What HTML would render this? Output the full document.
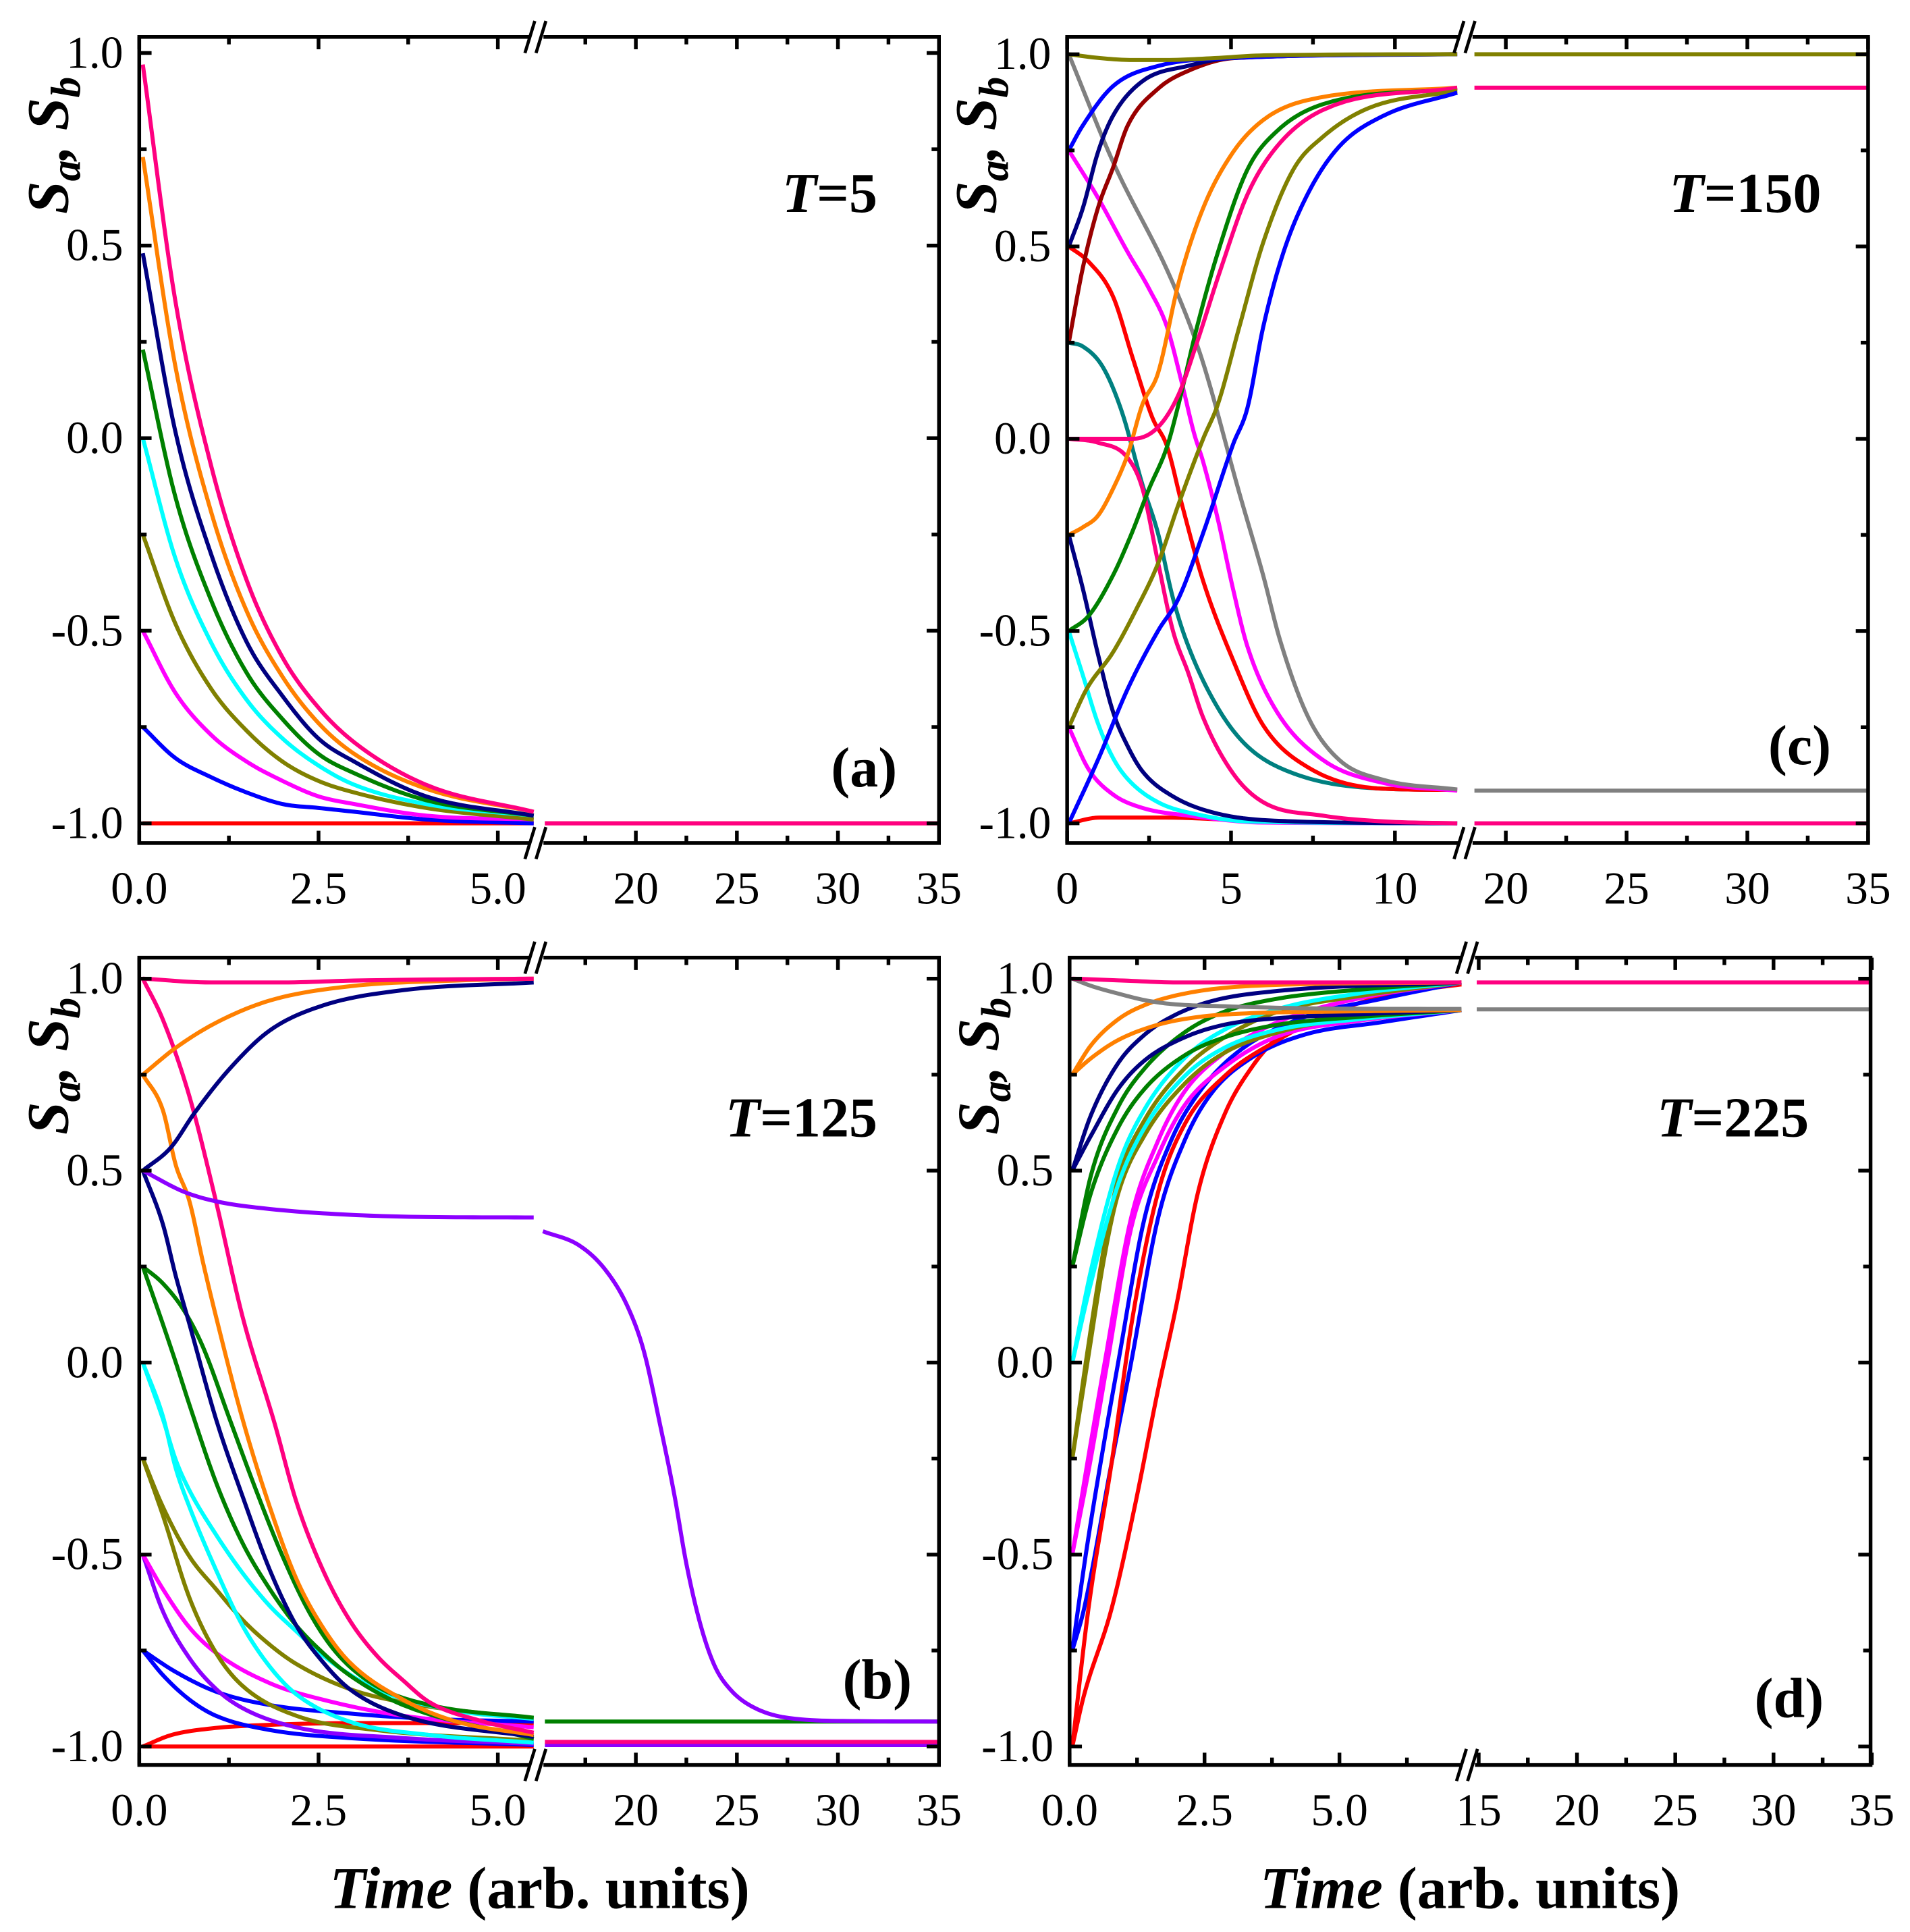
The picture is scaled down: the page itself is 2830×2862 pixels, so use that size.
<!DOCTYPE html>
<html><head><meta charset="utf-8"><title>Sa Sb relaxation</title>
<style>html,body{margin:0;padding:0;background:#fff;}svg{display:block;}</style></head>
<body>
<svg id="fig" xmlns="http://www.w3.org/2000/svg" width="2830" height="2862" viewBox="0 0 1550 1567.5" preserveAspectRatio="none" font-family="'Liberation Serif', serif">
<rect x="0" y="0" width="1550" height="1567.5" fill="#fff"/>
</svg>
<script>
// ---------- colours ----------
const C = {pink:'#ff0080',orange:'#ff8000',navy:'#000080',green:'#008000',cyan:'#00ffff',olive:'#808000',magenta:'#ff00ff',blue:'#0000ff',red:'#ff0000',gray:'#808080',teal:'#008080',maroon:'#990000',purple:'#8c00ff'};

// ---------- panel (a) T=5 ----------
const aTimes = [0.05,0.5,1,1.5,2,2.5,3,4,5.5];
const aRed     = [-1,-1,-1,-1,-1,-1,-1,-1,-1];
const aBlue    = [-0.75,-0.83,-0.88,-0.92,-0.95,-0.96,-0.97,-0.99,-1.0];
const aMagenta = [-0.5,-0.66,-0.77,-0.84,-0.89,-0.93,-0.95,-0.98,-0.99];
const aOlive   = [-0.25,-0.48,-0.65,-0.76,-0.84,-0.89,-0.92,-0.96,-0.99];
const aCyan    = [0,-0.31,-0.53,-0.68,-0.78,-0.85,-0.90,-0.95,-0.98];
const aGreen   = [0.23,-0.15,-0.42,-0.61,-0.73,-0.82,-0.87,-0.94,-0.98];
const aNavy    = [0.48,0.02,-0.30,-0.53,-0.67,-0.78,-0.84,-0.93,-0.98];
const aOrange  = [0.73,0.19,-0.19,-0.45,-0.62,-0.74,-0.82,-0.91,-0.97];
const aPink    = [0.97,0.36,-0.07,-0.37,-0.57,-0.70,-0.79,-0.90,-0.97];
const aRightTimes = [15.5,35];
const aRightRed  = [-1,-1];
const aRightPink = [-1,-1];

// ---------- panel (b) T=125 ----------
const bPinkTopT = [0.05,1,2,3,5.5];             const bPinkTopV = [1,0.99,0.99,0.995,1.0];
const bOrangeUpT = [0.05,0.51,1.07,1.82,2.93,4.4,5.5]; const bOrangeUpV = [0.75,0.82,0.885,0.943,0.98,0.995,1.0];
const bNavyUpT = [0.05,0.44,0.77,1.26,1.82,2.56,3.68,5.5]; const bNavyUpV = [0.5,0.56,0.65,0.765,0.865,0.93,0.97,0.99];
const bPurpleT = [0.05,0.62,1.07,1.82,2.93,4.05,5.5]; const bPurpleV = [0.5,0.445,0.42,0.40,0.385,0.379,0.378];
const bPinkT = [0.05,0.33,0.70,1.07,1.44,1.89,2.19,2.56,2.93,3.31,3.68,4.05,4.8,5.5];
const bPinkV = [1,0.893,0.693,0.42,0.12,-0.16,-0.362,-0.54,-0.67,-0.763,-0.828,-0.885,-0.935,-0.964];
const bOrangeT = [0.05,0.33,0.51,0.70,0.89,1.07,1.44,1.82,2.19,2.56,2.93,3.68,4.42,5.5];
const bOrangeV = [0.75,0.657,0.514,0.42,0.26,0.12,-0.147,-0.376,-0.563,-0.69,-0.78,-0.878,-0.935,-0.97];
const bNavyT = [0.05,0.33,0.51,0.70,1.07,1.44,1.82,2.19,2.56,2.93,3.68,5.5];
const bNavyV = [0.5,0.36,0.225,0.10,-0.147,-0.348,-0.54,-0.685,-0.78,-0.85,-0.92,-0.975];
const bGreen1T = [0.05,0.33,0.63,0.89,1.26,1.63,2.0,2.37,2.75,3.3,4.05,5.5];
const bGreen1V = [0.25,0.206,0.134,0.04,-0.147,-0.333,-0.505,-0.65,-0.756,-0.842,-0.892,-0.925];
const bGreen2T = [0.05,0.33,0.51,0.7,1.07,1.44,1.82,2.19,2.56,2.93,3.68,5.5];
const bGreen2V = [0.25,0.1,0.0,-0.11,-0.312,-0.47,-0.59,-0.685,-0.756,-0.814,-0.892,-0.98];
const bCyan1T = [0.05,0.33,0.51,0.70,1.07,1.44,1.82,2.19,2.56,3.3,4.42,5.5];
const bCyan1V = [0,-0.147,-0.254,-0.333,-0.448,-0.548,-0.634,-0.70,-0.763,-0.85,-0.907,-0.928];
const bCyan2T = [0.05,0.33,0.51,0.70,1.07,1.44,1.82,2.19,2.93,4.05,5.5];
const bCyan2V = [0,-0.14,-0.276,-0.376,-0.54,-0.685,-0.792,-0.864,-0.935,-0.97,-0.99];
const bOlive1T = [0.05,0.33,0.70,1.07,1.44,1.82,2.19,2.93,3.68,5.5];
const bOlive1V = [-0.25,-0.376,-0.505,-0.59,-0.67,-0.735,-0.785,-0.85,-0.885,-0.928];
const bOlive2T = [0.05,0.33,0.70,1.07,1.44,2.19,3.3,5.5];
const bOlive2V = [-0.25,-0.398,-0.613,-0.756,-0.842,-0.92,-0.957,-0.985];
const bMagentaT = [0.05,0.33,0.70,1.07,1.82,2.56,3.68,5.5];
const bMagentaV = [-0.5,-0.59,-0.69,-0.756,-0.835,-0.878,-0.92,-0.95];
const bPurple2T = [0.05,0.33,0.70,1.07,1.44,2.19,3.68,5.5];
const bPurple2V = [-0.5,-0.648,-0.77,-0.85,-0.9,-0.95,-0.978,-0.993];
const bBlue1T = [0.05,0.51,1.07,1.82,2.93,4.05,5.5];
const bBlue1V = [-0.75,-0.806,-0.857,-0.892,-0.914,-0.928,-0.935];
const bBlue2T = [0.05,0.33,0.70,1.07,1.82,2.93,5.5];
const bBlue2V = [-0.75,-0.814,-0.878,-0.92,-0.957,-0.978,-0.996];
const bRed1T = [0.05,0.45,1.0,1.75,3.2,5.5];
const bRed1V = [-1,-0.97,-0.953,-0.944,-0.939,-0.939];
const bRed2T = [0.05,5.5];
const bRed2V = [-1,-1];
const bRightT = [15.5,35];
const bRightGreen = [-0.935,-0.935];
const bRightPink = [-0.988,-0.988];
const bRightPurpleLow = [-0.996,-0.996];
const bSigT = [15.4,17.2,18.5,19.6,20.4,21.2,21.9,22.5,23.2,23.9,24.7,25.9,27.9,31,35];
const bSigV = [0.342,0.305,0.241,0.145,0.029,-0.162,-0.343,-0.524,-0.683,-0.79,-0.853,-0.90,-0.928,-0.934,-0.935];

// ---------- panel (c) T=150 ----------
const cOliveTopT = [0.05,1,2,3,4.5,6,11.9]; const cOliveTopV = [1,0.99,0.985,0.985,0.99,0.997,1.0];
const cBlueUpT = [0.05,0.48,1.4,2.8,5,11.9]; const cBlueUpV = [0.75,0.815,0.917,0.97,0.99,1.0];
const cNavyUpT = [0.05,0.48,0.94,1.4,2.3,3.7,5,11.9]; const cNavyUpV = [0.5,0.60,0.745,0.84,0.93,0.97,0.99,1.0];
const cMaroonT = [0.05,0.48,0.94,1.4,1.85,2.77,3.7,5.1,11.9]; const cMaroonV = [0.25,0.445,0.60,0.705,0.815,0.91,0.957,0.99,1.0];
const cGrayT = [0.05,1.4,3.2,4.1,5.25,5.98,6.5,7.36,8.3,9.65,11.9]; const cGrayV = [1.0,0.72,0.41,0.21,-0.14,-0.355,-0.525,-0.725,-0.835,-0.887,-0.912];
const cOrangeT = [0.05,0.48,0.94,1.4,1.85,2.3,2.77,3.4,4.15,5.06,6.0,7.3,11.9]; const cOrangeV = [-0.25,-0.23,-0.2,-0.13,-0.04,0.09,0.17,0.405,0.60,0.745,0.83,0.88,0.913];
const cGreenT = [0.05,0.66,1.4,1.95,2.5,3.05,3.4,3.96,4.6,5.5,6.4,7.8,11.9]; const cGreenV = [-0.5,-0.46,-0.355,-0.25,-0.13,-0.02,0.09,0.29,0.485,0.70,0.80,0.87,0.91];
const cPinkUpT = [0.05,1.0,2.0,2.77,3.4,3.96,4.7,5.5,6.4,7.8,11.9]; const cPinkUpV = [0,0,0,0.03,0.115,0.25,0.445,0.635,0.76,0.855,0.913];
const cOliveT = [0.05,0.6,1.4,2.1,2.77,3.4,4.15,4.6,5.25,5.98,6.9,7.8,9.2,11.9]; const cOliveV = [-0.75,-0.65,-0.555,-0.445,-0.325,-0.17,0,0.09,0.29,0.51,0.70,0.785,0.86,0.905];
const cBlueT = [0.05,0.94,1.85,2.77,3.4,4.15,5.06,5.5,5.98,6.6,7.36,8.3,9.65,11.9]; const cBlueV = [-1,-0.835,-0.65,-0.5,-0.415,-0.245,-0.015,0.08,0.29,0.485,0.64,0.76,0.84,0.90];
const cTealT = [0.05,0.48,1.1,1.67,2.3,2.77,3.23,3.7,4.6,5.5,6.9,9.65,11.9]; const cTealV = [0.25,0.24,0.185,0.07,-0.12,-0.245,-0.415,-0.54,-0.70,-0.80,-0.87,-0.91,-0.913];
const cRedT = [0.05,0.66,1.4,2.0,2.6,3.05,3.5,4.15,5.06,5.98,7.36,9.65,11.9]; const cRedV = [0.5,0.46,0.37,0.21,0.055,-0.02,-0.17,-0.37,-0.575,-0.745,-0.855,-0.91,-0.913];
const cMagentaT = [0.05,0.94,1.85,2.5,3.05,3.5,3.87,4.15,4.6,5.06,5.5,6.4,7.8,9.65,11.9]; const cMagentaV = [0.75,0.627,0.485,0.39,0.29,0.145,0.015,-0.06,-0.21,-0.39,-0.54,-0.71,-0.835,-0.895,-0.915];
const cNavyT = [0.05,0.48,0.94,1.4,1.85,2.3,3.23,4.6,6.9,11.9]; const cNavyV = [-0.25,-0.39,-0.56,-0.71,-0.80,-0.865,-0.93,-0.975,-0.995,-1.0];
const cCyanT = [0.05,0.48,0.94,1.4,1.85,2.77,4.15,5.5,11.9]; const cCyanV = [-0.5,-0.615,-0.74,-0.83,-0.885,-0.945,-0.98,-0.995,-1.0];
const cMagLowT = [0.05,0.66,1.4,2.3,3.7,6.0,11.9]; const cMagLowV = [-0.75,-0.86,-0.925,-0.96,-0.98,-0.998,-1.0];
const cPinkDnT = [0.05,0.94,1.85,2.3,2.77,3.23,3.7,4.15,5.06,5.98,7.8,9.65,11.9]; const cPinkDnV = [0,-0.01,-0.05,-0.13,-0.32,-0.50,-0.61,-0.725,-0.87,-0.945,-0.98,-0.995,-1.0];
const cRedLowT = [0.05,1,3,6,11.9]; const cRedLowV = [-1,-0.985,-0.985,-0.995,-1.0];
const cRightT = [18.7,35];
const cRightOlive = [1.0,1.0];
const cRightPink = [0.913,0.913];
const cRightGray = [-0.915,-0.915];
const cRightPinkLow = [-1.0,-1.0];

// ---------- panel (d) T=225 ----------
const dPinkT = [0.05,1,2,7.26]; const dPinkV = [1,0.995,0.99,0.99];
const dGrayT = [0.05,0.4,0.9,1.39,1.88,2.87,4.84,7.26]; const dGrayV = [1,0.981,0.961,0.944,0.934,0.928,0.922,0.921];
const dOrange1T = [0.05,0.4,0.9,1.39,2.13,3.36,7.26]; const dOrange1V = [0.75,0.827,0.894,0.931,0.961,0.981,0.99];
const dOrange2T = [0.05,0.4,0.9,1.64,2.38,3.36,4.84,7.26]; const dOrange2V = [0.75,0.793,0.84,0.88,0.90,0.91,0.914,0.918];
const dNavy1T = [0.05,0.4,0.9,1.39,1.88,2.62,3.86,7.26]; const dNavy1V = [0.5,0.646,0.78,0.854,0.90,0.941,0.968,0.99];
const dNavy2T = [0.05,0.4,0.9,1.39,2.13,2.87,3.86,5.34,7.26]; const dNavy2V = [0.5,0.592,0.713,0.787,0.847,0.88,0.897,0.907,0.918];
const dGreen1T = [0.05,0.4,0.9,1.39,2.13,2.87,3.86,5.34,7.26]; const dGreen1V = [0.25,0.49,0.666,0.766,0.86,0.914,0.948,0.971,0.99];
const dGreen2T = [0.05,0.4,0.9,1.39,2.13,2.87,3.86,5.34,7.26]; const dGreen2V = [0.25,0.444,0.612,0.713,0.80,0.847,0.88,0.90,0.918];
const dCyan1T = [0.05,0.4,0.9,1.39,2.13,2.87,3.86,5.34,7.26]; const dCyan1V = [0,0.243,0.511,0.66,0.793,0.867,0.921,0.961,0.99];
const dCyan2T = [0.05,0.4,0.9,1.39,2.13,2.87,3.86,5.34,7.26]; const dCyan2V = [0,0.21,0.464,0.612,0.746,0.82,0.867,0.894,0.918];
const dOlive1T = [0.05,0.3,0.65,0.9,1.39,2.13,2.87,3.86,5.34,7.26]; const dOlive1V = [-0.25,0.0,0.31,0.478,0.632,0.766,0.847,0.914,0.954,0.99];
const dOlive2T = [0.05,0.33,0.65,0.9,1.39,2.13,2.87,3.86,5.34,7.26]; const dOlive2V = [-0.25,0.0,0.28,0.44,0.592,0.726,0.807,0.86,0.90,0.918];
const dMag1T = [0.05,0.35,0.65,1.14,1.64,2.13,2.87,3.86,5.34,7.26]; const dMag1V = [-0.5,-0.244,0.0,0.377,0.578,0.706,0.807,0.887,0.948,0.99];
const dMag2T = [0.05,0.38,0.7,1.14,1.64,2.13,2.87,3.86,5.34,7.26]; const dMag2V = [-0.5,-0.26,0.0,0.35,0.54,0.67,0.77,0.85,0.89,0.918];
const dBlue1T = [0.05,0.3,0.6,0.9,1.39,1.88,2.38,3.1,4.35,5.8,7.26]; const dBlue1V = [-0.75,-0.5,-0.24,0.0,0.377,0.578,0.70,0.807,0.9,0.948,0.99];
const dBlue2T = [0.05,0.27,0.78,1.14,1.64,2.13,2.62,3.36,4.35,5.8,7.26]; const dBlue2V = [-0.75,-0.64,-0.26,0.0,0.377,0.578,0.70,0.793,0.854,0.887,0.918];
const dRed1T = [0.05,0.35,0.78,1.17,1.64,2.13,2.87,3.86,4.84,6.0,7.26]; const dRed1V = [-1,-0.64,-0.26,0.12,0.444,0.62,0.746,0.84,0.91,0.96,0.985];
const dRed2T = [0.05,0.26,0.78,1.21,1.64,1.98,2.38,2.87,3.36,3.86,4.35,5.34,7.26]; const dRed2V = [-1,-0.87,-0.64,-0.373,-0.07,0.15,0.444,0.646,0.766,0.847,0.88,0.90,0.918];
const dRightT = [14.9,35];
const dRightPink = [0.99,0.99];
const dRightGray = [0.92,0.92];

// ---------- axis ticks ----------
const yTickVals = [1.0,0.5,0.0,-0.5,-1.0];
const yTickLabels = ['1.0','0.5','0.0','-0.5','-1.0'];
const yMinorVals = [0.75,0.25,-0.25,-0.75];
const abLeftTicks = [0,2.5,5.0]; const abLeftLabels = ['0.0','2.5','5.0']; const abLeftMinor = [1.25,3.75];
const abRightTicks = [20,25,30,35]; const abRightLabels = ['20','25','30','35']; const abRightMinor = [17.5,22.5,27.5,32.5];
const cLeftTicks = [0,5,10]; const cLeftLabels = ['0','5','10']; const cLeftMinor = [2.5,7.5];
const cRightTicks = [20,25,30,35]; const cRightLabels = ['20','25','30','35']; const cRightMinor = [22.5,27.5,32.5];
const dLeftTicks = [0,2.5,5.0]; const dLeftLabels = ['0.0','2.5','5.0']; const dLeftMinor = [1.25,3.75,6.25];
const dRightTicks = [15,20,25,30,35]; const dRightLabels = ['15','20','25','30','35']; const dRightMinor = [17.5,22.5,27.5,32.5];

// ---------- helpers ----------
const NS = 'http://www.w3.org/2000/svg';
const svg = document.getElementById('fig');
function mk(tag, attrs, parent){
  const e = document.createElementNS(NS, tag);
  for (const k in attrs) e.setAttribute(k, attrs[k]);
  (parent||svg).appendChild(e);
  return e;
}
function mono(xs, ys){
  const n = xs.length, d = [], m = new Array(n).fill(0);
  for (let i=0;i<n-1;i++) d.push((ys[i+1]-ys[i])/(xs[i+1]-xs[i]));
  m[0]=d[0]; m[n-1]=d[n-2];
  for (let i=1;i<n-1;i++){ if (d[i-1]*d[i]<=0) m[i]=0; else { m[i]=(d[i-1]+d[i])/2; } }
  for (let i=0;i<n-1;i++){
    if (d[i]===0){ m[i]=0; m[i+1]=0; continue; }
    const a=m[i]/d[i], b=m[i+1]/d[i], s=a*a+b*b;
    if (s>9){ const t=3/Math.sqrt(s); m[i]=t*a*d[i]; m[i+1]=t*b*d[i]; }
  }
  return m;
}
function curvePts(ts, vs, fx, fy){
  const m = mono(ts, vs); const pts = [];
  for (let i=0;i<ts.length-1;i++){
    const h = ts[i+1]-ts[i];
    for (let k=0;k<12;k++){
      const s=k/12, s2=s*s, s3=s2*s;
      const v=(2*s3-3*s2+1)*vs[i]+(s3-2*s2+s)*h*m[i]+(-2*s3+3*s2)*vs[i+1]+(s3-s2)*h*m[i+1];
      const t=ts[i]+s*h;
      pts.push(fx(t).toFixed(2)+','+fy(v).toFixed(2));
    }
  }
  pts.push(fx(ts[ts.length-1]).toFixed(2)+','+fy(vs[vs.length-1]).toFixed(2));
  return pts.join(' ');
}

function makePanel(P){
  const g = mk('g', {});
  
  
  const fy = v => P.y1 + (1-v)*(P.ym1-P.y1)/2;
  const fxl = t => P.lx0 + t*P.lk;
  const fxr = t => P.rx0 + (t-P.rt0)*P.rk;
  const sg = mk('g', {fill:'none','stroke-width':3.3,'stroke-linejoin':'round','stroke-linecap':'butt'}, g);
  
  
  P.left.forEach(s=>{
    const p = mk('polyline', {points: curvePts(s[1], s[2], fxl, fy), stroke: C[s[0]]}, sg);
    
    
  });
  P.right.forEach(s=>{
    const p = mk('polyline', {points: curvePts(s[1], s[2], fxr, fy), stroke: C[s[0]]}, sg);
    
    
  });
  const ax = mk('g', {stroke:'#000','stroke-width':3,fill:'none'}, g);
  
  
  const bx = P.brk;
  mk('path', {d:`M${bx-5},${P.top} H${P.x0} V${P.bot} H${bx-5} M${bx+5},${P.top} H${P.x1} V${P.bot} H${bx+5}`}, ax);
  [P.top,P.bot].forEach(yy=>{
    const b = mk('path', {d:`M${bx-10},${yy+13} L${bx-2},${yy-13} M${bx-1},${yy+13} L${bx+7},${yy-13}`,'stroke-width':2.6}, ax);
    
    
  });
  yTickVals.forEach((v,i)=>{
    const y = fy(v);
    mk('path', {d:`M${P.x0},${y} h10 M${P.x1},${y} h-10`}, ax);
    const t = mk('text', {x:P.x0-13, y:y+12, 'text-anchor':'end','font-size':37, fill:'#000', stroke:'none'}, g);
    t.textContent = yTickLabels[i];
    
    
  });
  yMinorVals.forEach(v=>{ const y=fy(v); mk('path', {d:`M${P.x0},${y} h6 M${P.x1},${y} h-6`}, ax); });
  function xt(ticks, labels, minor, fx){
    ticks.forEach((t,i)=>{
      const x = fx(t);
      mk('path', {d:`M${x},${P.bot} v-10 M${x},${P.top} v10`}, ax);
      const tx = mk('text', {x:x, y:P.bot+49, 'text-anchor':'middle','font-size':37, fill:'#000', stroke:'none'}, g);
      tx.textContent = labels[i];
      
      
    });
    minor.forEach(t=>{ const x=fx(t); mk('path', {d:`M${x},${P.bot} v-6 M${x},${P.top} v6`}, ax); });
  }
  xt(P.lt, P.ll, P.lm, fxl);
  xt(P.rtk, P.rl, P.rm, fxr);
  const yt = mk('text', {transform:`translate(${P.x0-58},${P.top+88}) rotate(-90)`, 'text-anchor':'middle','font-size':48,'font-weight':'bold','font-style':'italic', fill:'#000'}, g);
  yt.innerHTML = 'S<tspan font-size="34" dy="10">a</tspan><tspan dy="-10">, S</tspan><tspan font-size="34" dy="10">b</tspan>';
  
  
  const tl = mk('text', {x:P.tx, y:P.ty, 'text-anchor':'end','font-size':46,'font-weight':'bold', fill:'#000'}, g);
  tl.innerHTML = '<tspan font-style="italic">T</tspan>='+P.T;
  
  
  const pl = mk('text', {x:P.px, y:P.py, 'text-anchor':'end','font-size':46,'font-weight':'bold', fill:'#000'}, g);
  pl.textContent = P.tag;
  
  
}

makePanel({name:'panel-a', x0:113, x1:762, top:30, bot:684, y1:43, ym1:668, lx0:113, lk:58.2, rx0:516, rt0:20, rk:16.4, brk:436,
  lt:abLeftTicks, ll:abLeftLabels, lm:abLeftMinor, rtk:abRightTicks, rl:abRightLabels, rm:abRightMinor,
  T:'5', tx:712, ty:172, tag:'(a)', px:728, py:638,
  left:[['red',aTimes,aRed],['blue',aTimes,aBlue],['magenta',aTimes,aMagenta],['olive',aTimes,aOlive],['cyan',aTimes,aCyan],['green',aTimes,aGreen],['navy',aTimes,aNavy],['orange',aTimes,aOrange],['pink',aTimes,aPink]],
  right:[['red',aRightTimes,aRightRed],['pink',aRightTimes,aRightPink]]});

makePanel({name:'panel-b', x0:113, x1:762, top:777, bot:1432, y1:794, ym1:1417, lx0:113, lk:58.2, rx0:516, rt0:20, rk:16.4, brk:436,
  lt:abLeftTicks, ll:abLeftLabels, lm:abLeftMinor, rtk:abRightTicks, rl:abRightLabels, rm:abRightMinor,
  T:'125', tx:712, ty:922, tag:'(b)', px:740, py:1378,
  left:[['red',bRed2T,bRed2V],['red',bRed1T,bRed1V],['blue',bBlue2T,bBlue2V],['blue',bBlue1T,bBlue1V],['purple',bPurple2T,bPurple2V],['magenta',bMagentaT,bMagentaV],['olive',bOlive2T,bOlive2V],['olive',bOlive1T,bOlive1V],['cyan',bCyan2T,bCyan2V],['cyan',bCyan1T,bCyan1V],['green',bGreen2T,bGreen2V],['green',bGreen1T,bGreen1V],['navy',bNavyT,bNavyV],['orange',bOrangeT,bOrangeV],['pink',bPinkT,bPinkV],['purple',bPurpleT,bPurpleV],['navy',bNavyUpT,bNavyUpV],['orange',bOrangeUpT,bOrangeUpV],['pink',bPinkTopT,bPinkTopV]],
  right:[['purple',bRightT,bRightPurpleLow],['green',bRightT,bRightGreen],['pink',bRightT,bRightPink],['purple',bSigT,bSigV]]});

makePanel({name:'panel-c', x0:866, x1:1516, top:30, bot:684, y1:44, ym1:668, lx0:866, lk:26.6, rx0:1222, rt0:20, rk:19.6, brk:1190,
  lt:cLeftTicks, ll:cLeftLabels, lm:cLeftMinor, rtk:cRightTicks, rl:cRightLabels, rm:cRightMinor,
  T:'150', tx:1478, ty:172, tag:'(c)', px:1486, py:620,
  left:[['red',cRedLowT,cRedLowV],['magenta',cMagLowT,cMagLowV],['cyan',cCyanT,cCyanV],['navy',cNavyT,cNavyV],['teal',cTealT,cTealV],['red',cRedT,cRedV],['magenta',cMagentaT,cMagentaV],['gray',cGrayT,cGrayV],['pink',cPinkDnT,cPinkDnV],['orange',cOrangeT,cOrangeV],['green',cGreenT,cGreenV],['pink',cPinkUpT,cPinkUpV],['olive',cOliveT,cOliveV],['blue',cBlueT,cBlueV],['maroon',cMaroonT,cMaroonV],['navy',cNavyUpT,cNavyUpV],['blue',cBlueUpT,cBlueUpV],['olive',cOliveTopT,cOliveTopV]],
  right:[['olive',cRightT,cRightOlive],['pink',cRightT,cRightPink],['gray',cRightT,cRightGray],['pink',cRightT,cRightPinkLow]]});

makePanel({name:'panel-d', x0:868, x1:1518, top:777, bot:1432, y1:794, ym1:1417, lx0:868, lk:43.8, rx0:1200, rt0:15, rk:15.95, brk:1192,
  lt:dLeftTicks, ll:dLeftLabels, lm:dLeftMinor, rtk:dRightTicks, rl:dRightLabels, rm:dRightMinor,
  T:'225', tx:1468, ty:922, tag:'(d)', px:1480, py:1393,
  left:[['red',dRed2T,dRed2V],['blue',dBlue2T,dBlue2V],['red',dRed1T,dRed1V],['blue',dBlue1T,dBlue1V],['magenta',dMag2T,dMag2V],['magenta',dMag1T,dMag1V],['olive',dOlive2T,dOlive2V],['olive',dOlive1T,dOlive1V],['cyan',dCyan2T,dCyan2V],['cyan',dCyan1T,dCyan1V],['green',dGreen2T,dGreen2V],['green',dGreen1T,dGreen1V],['navy',dNavy2T,dNavy2V],['navy',dNavy1T,dNavy1V],['orange',dOrange2T,dOrange2V],['orange',dOrange1T,dOrange1V],['gray',dGrayT,dGrayV],['pink',dPinkT,dPinkV]],
  right:[['gray',dRightT,dRightGray],['pink',dRightT,dRightPink]]});

[438,1193].forEach((cx,i)=>{
  const t = mk('text', {x:cx, y:1548, 'text-anchor':'middle','font-size':48,'font-weight':'bold', fill:'#000'});
  t.innerHTML = '<tspan font-style="italic">Time</tspan> (arb. units)';
  
  
});
</script>
</body></html>
